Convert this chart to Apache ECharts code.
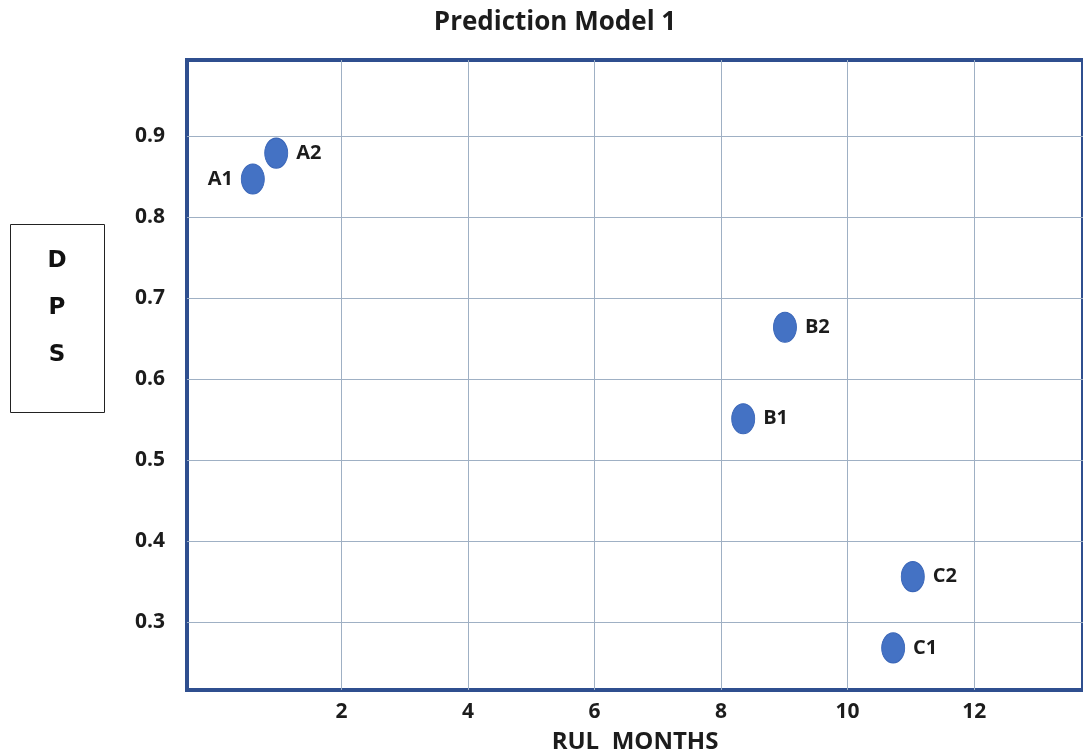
<!DOCTYPE html>
<html>
<head>
<meta charset="utf-8">
<script src="https://cdn.jsdelivr.net/npm/echarts@6/dist/echarts.min.js"></script>
<style>
  html, body { margin: 0; padding: 0; background: #fff; }
  #chart { width: 1083px; height: 753px; }
</style>
</head>
<body>
<div id="chart"></div>
<script>
// points: name, RUL months, DPS
const names = ['A1', 'A2', 'B1', 'B2', 'C1', 'C2'];
const rulMonths = [0.60, 0.97, 8.35, 9.01, 10.72, 11.03];
const dps = [0.847, 0.879, 0.551, 0.664, 0.268, 0.356];
const xTicks = [2, 4, 6, 8, 10, 12];
const yTicks = [0.3, 0.4, 0.5, 0.6, 0.7, 0.8, 0.9];

const font = '"Open Sans", Lato, sans-serif';
const txt = '#1c1c1c';

let points = names.map((n, i) => ({
    name: n,
    value: [rulMonths[i], dps[i]],
    label: { position: n === 'A1' ? 'left' : 'right' }
}));

let myChart = echarts.init(document.getElementById('chart'));
let option = {
    backgroundColor: '#fff',
    animation: false,
    title: {
        text: 'Prediction Model 1',
        left: 550,
        top: 5,
        textAlign: 'center',
        textStyle: { fontFamily: font, fontSize: 26, fontWeight: 'bold', color: txt }
    },
    grid: {
        left: 187, top: 60, right: 0, bottom: 63,
        outerBoundsMode: 'none',
        containLabel: false,
        show: true,
        borderColor: '#2f4f8f',
        borderWidth: 4
    },
    xAxis: {
        type: 'value',
        min: -0.44,
        max: 13.72,
        name: 'RUL  MONTHS',
        nameLocation: 'middle',
        nameGap: 40,
        nameTextStyle: { fontFamily: font, fontSize: 24, fontWeight: 'bold', color: txt },
        axisLine: { show: false },
        axisTick: { show: false, customValues: xTicks },
        axisLabel: {
            customValues: xTicks,
            margin: 12,
            fontFamily: font, fontSize: 21, fontWeight: 'bold', color: txt
        },
        splitLine: { show: true, lineStyle: { color: '#9fb0c4', width: 1 } }
    },
    yAxis: {
        type: 'value',
        min: 0.216,
        max: 0.994,
        axisLine: { show: false },
        axisTick: { show: false, customValues: yTicks },
        axisLabel: {
            customValues: yTicks,
            margin: 22,
            formatter: v => v.toFixed(1),
            fontFamily: font, fontSize: 21, fontWeight: 'bold', color: txt
        },
        splitLine: { show: true, lineStyle: { color: '#9fb0c4', width: 1 } }
    },
    graphic: [
        {
            type: 'rect',
            shape: { x: 10.5, y: 224.5, width: 94, height: 188 },
            style: { fill: '#fff', stroke: '#222', lineWidth: 1 }
        },
        {
            type: 'text',
            x: 57, y: 261,
            style: { text: 'D', fontFamily: '"DejaVu Sans", sans-serif', fontSize: 23, fontWeight: 'bold', fill: '#111', align: 'center', verticalAlign: 'middle' }
        },
        {
            type: 'text',
            x: 57, y: 308,
            style: { text: 'P', fontFamily: '"DejaVu Sans", sans-serif', fontSize: 23, fontWeight: 'bold', fill: '#111', align: 'center', verticalAlign: 'middle' }
        },
        {
            type: 'text',
            x: 57, y: 355,
            style: { text: 'S', fontFamily: '"DejaVu Sans", sans-serif', fontSize: 23, fontWeight: 'bold', fill: '#111', align: 'center', verticalAlign: 'middle' }
        }
    ],
    series: [
        {
            type: 'scatter',
            symbol: 'circle',
            symbolSize: [23, 30],
            itemStyle: { color: '#4472c4', opacity: 1, borderColor: '#3a66b8', borderWidth: 1 },
            label: {
                show: true,
                formatter: '{b}',
                distance: 8,
                fontFamily: font, fontSize: 20, fontWeight: 'bold', color: txt
            },
            data: points
        }
    ]
};
myChart.setOption(option);
</script>
</body>
</html>
